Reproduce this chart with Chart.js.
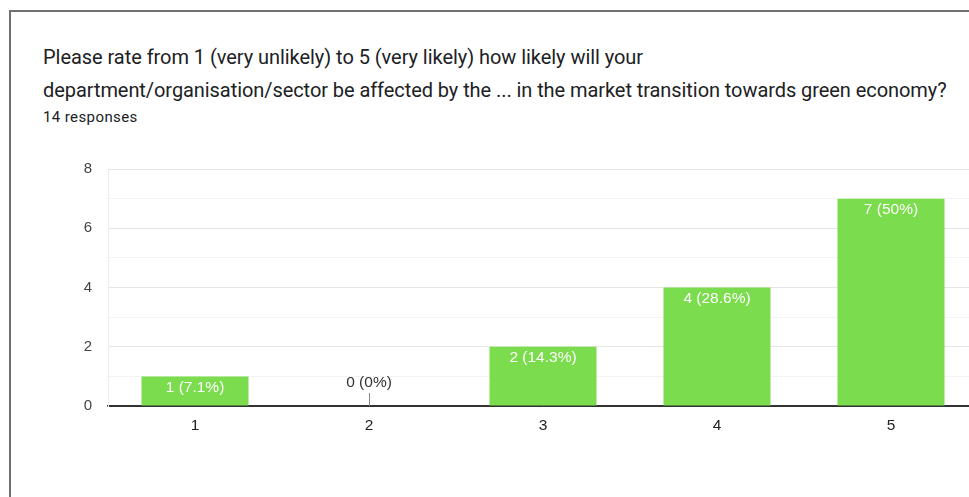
<!DOCTYPE html>
<html>
<head>
<meta charset="utf-8">
<script src="https://cdn.jsdelivr.net/npm/chart.js@4.4.1/dist/chart.umd.min.js"></script>
<style>
  html, body { margin: 0; padding: 0; background: #fff; overflow: hidden; width: 969px; height: 497px; }
  #frame { position: absolute; left: 9px; top: 10px; width: 1000px; height: 600px; border: 2px solid #707070; box-sizing: border-box; }
  .title { position: absolute; left: 43px; font-family: Roboto, sans-serif; color: #202124; white-space: nowrap; }
  #t1 { top: 43px; font-size: 20px; line-height: 28px; letter-spacing: -0.05px; }
  #t2 { top: 76px; font-size: 20px; line-height: 28px; letter-spacing: -0.07px; }
  #t3 { top: 107px; font-size: 15px; line-height: 20px; letter-spacing: 0.4px; }
  #chartBox { position: absolute; left: 0; top: 144px; }
</style>
</head>
<body>
<div id="frame"></div>
<div class="title" id="t1">Please rate from 1 (very unlikely) to 5 (very likely) how likely will your</div>
<div class="title" id="t2">department/organisation/sector be affected by the ... in the market transition towards green economy?</div>
<div class="title" id="t3">14 responses</div>
<div id="chartBox"><canvas id="chart" width="990" height="310"></canvas></div>
<script>
// answer scale and response counts
const categories = ['1', '2', '3', '4', '5'];
const counts = [1, 0, 2, 4, 7];
const yTicks = [0, 2, 4, 6, 8];

const total = counts.reduce((a, b) => a + b, 0);
const pctLabel = (v) => {
	const p = Number(((v / total) * 100).toFixed(1));
	return `${v} (${p}%)`;
};

const fontFamily = '"Liberation Sans", Arial, sans-serif';

// draws "n (x%)" on top of each bar, like google forms does
const barLabels = {
	id: 'barLabels',
	afterDatasetsDraw(chart) {
		const { ctx, scales: { y } } = chart;
		const meta = chart.getDatasetMeta(0);
		ctx.save();
		ctx.font = '15.5px ' + fontFamily;
		ctx.textAlign = 'center';
		ctx.textBaseline = 'middle';
		meta.data.forEach((bar, i) => {
			const v = counts[i];
			if (v > 0) {
				ctx.fillStyle = '#ffffff';
				ctx.fillText(pctLabel(v), bar.x, bar.y + 11);
			} else {
				const base = y.getPixelForValue(0);
				ctx.strokeStyle = '#888888';
				ctx.lineWidth = 1;
				ctx.beginPath();
				ctx.moveTo(Math.round(bar.x) + 0.5, base);
				ctx.lineTo(Math.round(bar.x) + 0.5, base - 13);
				ctx.stroke();
				ctx.fillStyle = '#333333';
				ctx.fillText(pctLabel(v), bar.x, base - 23);
			}
		});
		ctx.restore();
	},
};

const chartConfig = {
	type: 'bar',
	data: {
		labels: categories,
		datasets: [
			{
				data: counts,
				backgroundColor: 'rgb(123, 220, 77)',
				borderWidth: 0,
				barPercentage: 0.615,
				categoryPercentage: 1,
			},
		],
	},
	options: {
		responsive: false,
		animation: false,
		devicePixelRatio: 1,
		layout: { padding: { top: 8, right: 12, bottom: 0, left: 0 } },
		plugins: { legend: { display: false }, tooltip: { enabled: false } },
		scales: {
			x: {
				grid: { display: false, drawTicks: false },
				border: { color: '#333333', width: 1.5 },
				ticks: { color: '#222222', padding: 10, font: { family: fontFamily, size: 15.5 } },
				afterFit: (scale) => { scale.height = 48; },
			},
			y: {
				min: 0,
				max: 8,
				ticks: {
					stepSize: 1,
					padding: 16,
					color: '#444444',
					font: { family: fontFamily, size: 15 },
					callback: (v) => (yTicks.includes(v) ? v : ''),
				},
				grid: {
					drawTicks: false,
					color: (c) => (c.tick.value === 0 ? '#333333' : yTicks.includes(c.tick.value) ? '#e6e6e6' : '#f3f3f3'),
				},
				border: { color: '#ececec' },
				afterFit: (scale) => { scale.width = 108; },
			},
		},
	},
	plugins: [barLabels],
};

new Chart(document.getElementById('chart'), chartConfig);
</script>
</body>
</html>
